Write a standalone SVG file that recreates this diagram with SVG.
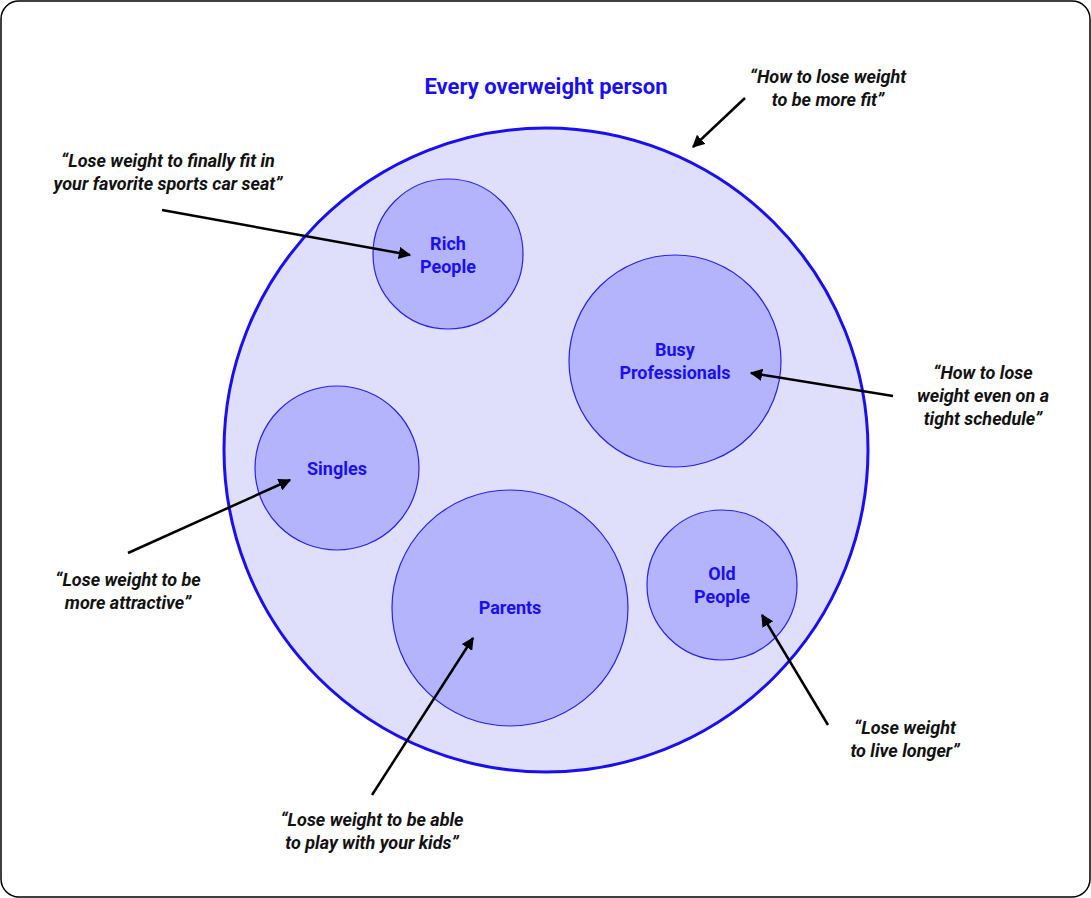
<svg xmlns="http://www.w3.org/2000/svg" width="1091" height="898" viewBox="0 0 1091 898">
<style>
.lbl{font-family:Roboto,"Liberation Sans",sans-serif;font-weight:bold;fill:#1a0ff0;font-size:18px;text-anchor:middle}
.q{font-family:Roboto,"Liberation Sans",sans-serif;font-weight:bold;font-style:italic;fill:#111;font-size:18px;text-anchor:middle}
.sub{fill:#b4b4fc;stroke:#2a1ff0;stroke-width:1.2}
.ar{stroke:#000;stroke-width:2.5;fill:none;marker-end:url(#ah)}
</style>
<defs><marker id="ah" viewBox="0 0 10 10" refX="9" refY="5" markerWidth="5" markerHeight="5" orient="auto"><path d="M0,0L10,5L0,10z" fill="#000"/></marker></defs>
<rect x="1" y="1" width="1089" height="896" rx="18" fill="#fff" stroke="#000" stroke-width="1.5"/>
<g id="all"><circle cx="546" cy="450" r="322" fill="#dfdffb" stroke="#1a0ff0" stroke-width="3"/>
<text class="lbl" x="546" y="94" font-size="22" style="font-size:22px">Every overweight person</text></g>
<g id="rich"><circle class="sub" cx="448" cy="254" r="75"/><text class="lbl" x="448" y="250">Rich</text><text class="lbl" x="448" y="273">People</text></g>
<g id="busy"><circle class="sub" cx="675" cy="361" r="106"/><text class="lbl" x="675" y="356">Busy</text><text class="lbl" x="675" y="379">Professionals</text></g>
<g id="singles"><circle class="sub" cx="337" cy="468" r="82"/><text class="lbl" x="337" y="475">Singles</text></g>
<g id="parents"><circle class="sub" cx="510" cy="608" r="118"/><text class="lbl" x="510" y="614">Parents</text></g>
<g id="old"><circle class="sub" cx="722" cy="585" r="75"/><text class="lbl" x="722" y="580">Old</text><text class="lbl" x="722" y="603">People</text></g>
<g id="connectors">
<line class="ar" x1="745" y1="98" x2="693" y2="147"/>
<line class="ar" x1="162" y1="210" x2="410" y2="255"/>
<line class="ar" x1="893" y1="396" x2="751" y2="373"/>
<line class="ar" x1="128" y1="553" x2="290" y2="480"/>
<line class="ar" x1="372" y1="795" x2="473" y2="638"/>
<line class="ar" x1="828" y1="725" x2="762" y2="615"/>
</g>
<g id="quotes">
<text class="q" x="828" y="83">“How to lose weight</text><text class="q" x="828" y="106">to be more fit”</text>
<text class="q" x="168" y="167">“Lose weight to finally fit in</text><text class="q" x="168" y="190">your favorite sports car seat”</text>
<text class="q" x="983" y="379">“How to lose</text><text class="q" x="983" y="402">weight even on a</text><text class="q" x="983" y="425">tight schedule”</text>
<text class="q" x="128" y="586">“Lose weight to be</text><text class="q" x="128" y="609">more attractive”</text>
<text class="q" x="372" y="826">“Lose weight to be able</text><text class="q" x="372" y="849">to play with your kids”</text>
<text class="q" x="905" y="734">“Lose weight</text><text class="q" x="905" y="757">to live longer”</text>
</g>
</svg>
